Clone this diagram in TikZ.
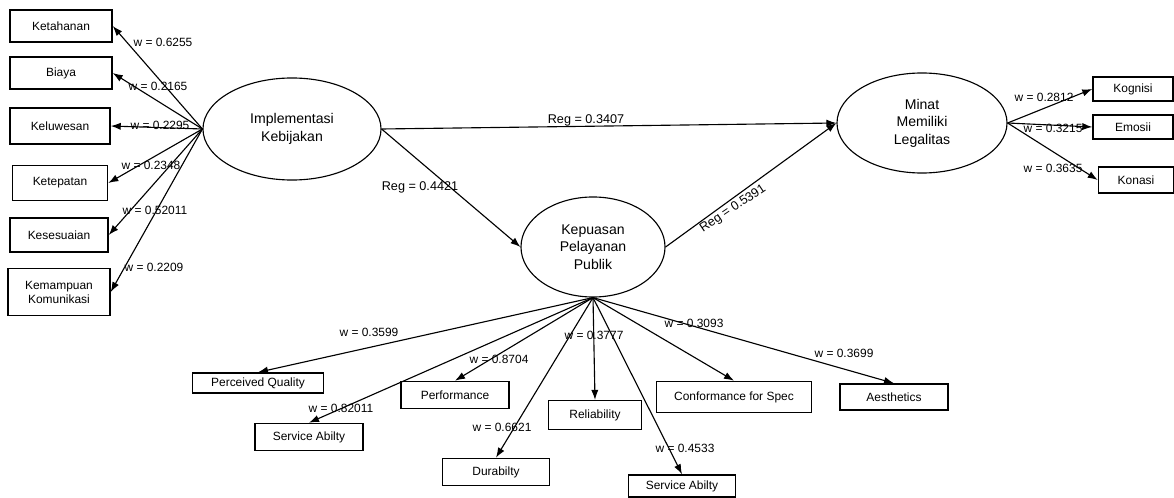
\documentclass[tikz,border=0pt]{standalone}
\usepackage{fontspec}
\setmainfont{Liberation Sans}
\usetikzlibrary{shapes.geometric,arrows.meta}

\begin{document}
\begin{tikzpicture}[x=0.025cm,y=-0.025cm,
    box/.style={draw,line width=1pt,inner sep=1pt,align=center,font=\fontsize{8.5}{10}\selectfont},
    lv/.style={draw,ellipse,line width=0.8pt,inner sep=0pt,align=center,font=\fontsize{10}{12.5}\selectfont},
    wt/.style={inner sep=0pt,font=\fontsize{8.5}{10}\selectfont},
    rg/.style={inner sep=0pt,font=\fontsize{9}{10}\selectfont},
    arr/.style={-{Latex[length=2.5mm,width=1.8mm]},line width=0.8pt}]
    \useasboundingbox (0,0) rectangle (1174,498);

    \node[lv,minimum width=4.45cm,minimum height=2.55cm] (x) at (292,129) {Implementasi\\Kebijakan};
    \node[lv,minimum width=4.25cm,minimum height=2.5cm] (y) at (922,123) {Minat\\Memiliki\\Legalitas};
    \node[lv,minimum width=3.6cm,minimum height=2.5cm] (z) at (593,247) {Kepuasan\\Pelayanan\\Publik};

    \node[box,minimum width=2.55cm,minimum height=0.8cm] (a) at (61,26) {Ketahanan};
    \node[box,minimum width=2.55cm,minimum height=0.8cm] (b) at (61,73) {Biaya};
    \node[box,minimum width=2.5cm,minimum height=0.9cm] (c) at (60,126) {Keluwesan};
    \node[box,minimum width=2.38cm,minimum height=0.88cm] (d) at (60,183) {Ketepatan};
    \node[box,minimum width=2.45cm,minimum height=0.85cm] (e) at (59,235) {Kesesuaian};
    \node[box,minimum width=2.55cm,minimum height=1.18cm] (f) at (59,292) {Kemampuan\\Komunikasi};

    \node[box,minimum width=2cm,minimum height=0.6cm] (g) at (1133,89) {Kognisi};
    \node[box,minimum width=2cm,minimum height=0.6cm] (h) at (1133,127) {Emosii};
    \node[box,minimum width=1.88cm,minimum height=0.65cm] (i) at (1136,180) {Konasi};

    \node[box,minimum width=3.28cm,minimum height=0.5cm] (j) at (258,383) {Perceived Quality};
    \node[box,minimum width=2.7cm,minimum height=0.68cm] (k) at (309,437) {Service Abilty};
    \node[box,minimum width=2.7cm,minimum height=0.68cm] (l) at (455,395) {Performance};
    \node[box,minimum width=2.68cm,minimum height=0.68cm] (m) at (496,472) {Durabilty};
    \node[box,minimum width=2.33cm,minimum height=0.72cm] (n) at (595,415) {Reliability};
    \node[box,minimum width=2.68cm,minimum height=0.55cm] (o) at (682,486) {Service Abilty};
    \node[box,minimum width=3.88cm,minimum height=0.78cm] (p) at (734,397) {Conformance for Spec};
    \node[box,minimum width=2.7cm,minimum height=0.65cm] (q) at (894,397) {Aesthetics};

    \draw[arr] (x.west) -- (a.east);
    \draw[arr] (x.west) -- (b.east);
    \draw[arr] (x.west) -- (c.east);
    \draw[arr] (x.west) -- (d.east);
    \draw[arr] (x.west) -- (e.east);
    \draw[arr] (x.west) -- (f.east);

    \draw[arr] (x.east) -- (y.west);
    \draw[arr] (x.east) -- (z.west);
    \draw[arr] (z.east) -- (y.west);

    \draw[arr] (y.east) -- (g.west);
    \draw[arr] (y.east) -- (h.west);
    \draw[arr] (y.east) -- (i.west);

    \draw[arr] (z.south) -- (j.north);
    \draw[arr] (z.south) -- (k.north);
    \draw[arr] (z.south) -- (l.north);
    \draw[arr] (z.south) -- (m.north);
    \draw[arr] (z.south) -- (n.north);
    \draw[arr] (z.south) -- (o.north);
    \draw[arr] (z.south) -- (p.north);
    \draw[arr] (z.south) -- (q.north);

    \node[wt] (w1) at (163,42) {w = 0.6255};
    \node[wt] (w2) at (158,86) {w = 0.2165};
    \node[wt] (w3) at (160,125) {w = 0.2295};
    \node[wt] (w4) at (151,165) {w = 0.2348};
    \node[wt] (w5) at (155,210) {w = 0.52011};
    \node[wt] (w6) at (154,267) {w = 0.2209};
    \node[wt] (w7) at (1044,97) {w = 0.2812};
    \node[wt] (w8) at (1053,128) {w = 0.3215};
    \node[wt] (w9) at (1053,168) {w = 0.3635};
    \node[wt] (w10) at (369,332) {w = 0.3599};
    \node[wt] (w11) at (499,359) {w = 0.8704};
    \node[wt] (w12) at (341,408) {w = 0.82011};
    \node[wt] (w13) at (502,427) {w = 0.6621};
    \node[wt] (w14) at (594,335) {w = 0.3777};
    \node[wt] (w15) at (694,323) {w = 0.3093};
    \node[wt] (w16) at (844,353) {w = 0.3699};
    \node[wt] (w17) at (685,448) {w = 0.4533};

    \node[rg] (r1) at (586,120) {Reg = 0.3407};
    \node[rg] (r2) at (420,187) {Reg = 0.4421};
    \node[rg,rotate=34] (r3) at (733,209) {Reg = 0.5391};
\end{tikzpicture}
\end{document}
